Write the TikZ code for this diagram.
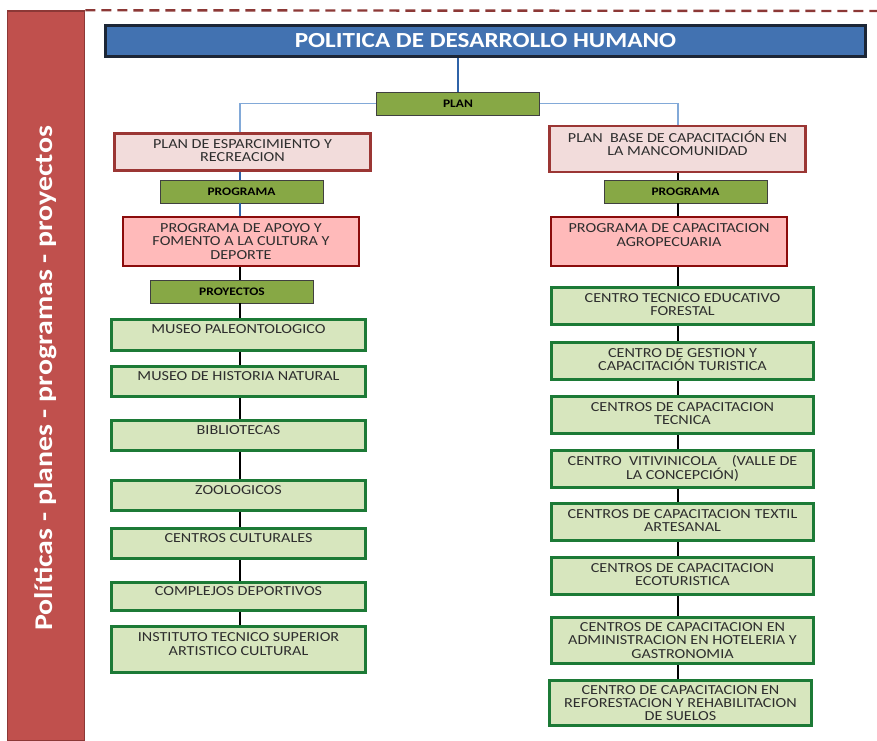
\documentclass[tikz,border=0pt]{standalone}
\usepackage{fontspec}
\setmainfont{Carlito}[FakeStretch=1.17]
\usepackage{tikz}
\usetikzlibrary{positioning}

\definecolor{BarRed}{HTML}{C0504D}
\definecolor{BarEdge}{HTML}{8C3836}
\definecolor{TitleBlue}{HTML}{4272B1}
\definecolor{TitleEdge}{HTML}{1C2636}
\definecolor{TagGreen}{HTML}{87A845}
\definecolor{PlanFill}{HTML}{F2DCDB}
\definecolor{PlanEdge}{HTML}{9B3634}
\definecolor{ProgFill}{HTML}{FFBABA}
\definecolor{ProgEdge}{HTML}{8B0C0C}
\definecolor{ProjFill}{HTML}{D7E6BE}
\definecolor{ProjEdge}{HTML}{1C7A36}
\definecolor{LinkBlue}{HTML}{2F63A8}
\definecolor{LightBlue}{HTML}{82A9D8}
\definecolor{TextGray}{HTML}{2E2E2E}

% invisible strut that lifts the text inside its box
\newcommand{\lift}[1]{\rule[-#1]{0pt}{0pt}}

\begin{document}
\begin{tikzpicture}[x=1pt, y=-1pt,
        boxtext/.style={text=TextGray, align=center, inner sep=0pt, font=\fontsize{13.8}{13.4}\selectfont},
        tagbox/.style={draw=black!75, fill=TagGreen, line width=0.7pt, minimum width=163pt, minimum height=23pt, inner sep=0pt, font=\bfseries\fontsize{11.5}{11.5}\selectfont},
        planbox/.style={boxtext, draw=PlanEdge, fill=PlanFill, line width=2.6pt},
        progbox/.style={boxtext, draw=ProgEdge, fill=ProgFill, line width=2.6pt, minimum width=236pt, minimum height=49pt},
        projbox/.style={boxtext, draw=ProjEdge, fill=ProjFill, line width=2.6pt},
        spine/.style={line width=2pt}
    ]
    \useasboundingbox (0,0) rectangle (877,740);

    % side bar
    \node[draw=BarEdge, fill=BarRed, line width=1.5pt, minimum width=77pt, minimum height=730pt, inner sep=0pt] (bar) at (46,376) {};
    \node[rotate=90, text=white, font=\bfseries\fontsize{25.5}{25.5}\selectfont] (side) at (46,378.5) {Políticas - planes - programas - proyectos};
    \draw[BarEdge, line width=2.4pt, dash pattern=on 10pt off 6pt] (bar.north east) -- (877,11);

    \node[draw=TitleEdge, fill=TitleBlue, line width=2.4pt, minimum width=760pt, minimum height=31pt, inner sep=0pt, text=white, font=\bfseries\fontsize{21.5}{21.5}\selectfont] (title) at (485.5,41) {POLITICA DE DESARROLLO HUMANO};
    \node[tagbox] (plan) at (458,103.5) {PLAN};

    % plans
    \node[planbox, minimum width=256pt, minimum height=37pt] (lplan) at (242.5,152) {PLAN DE ESPARCIMIENTO Y\\RECREACION\lift{3pt}};
    \node[planbox, minimum width=256pt, minimum height=46pt] (rplan) at (677.5,149) {PLAN\ \ BASE DE CAPACITACIÓN EN\\LA MANCOMUNIDAD\lift{11pt}};

    \node[tagbox] (lprograma) at (241.5,191.5) {PROGRAMA};
    \node[tagbox] (rprograma) at (685.5,191.5) {PROGRAMA};

    \node[progbox] (lprog) at (241,241.5) {PROGRAMA DE APOYO Y\\FOMENTO A LA CULTURA Y\\DEPORTE};
    \node[progbox] (rprog) at (669,241.5) {PROGRAMA DE CAPACITACION\\AGROPECUARIA\lift{13pt}};

    \node[tagbox] (proyectos) at (232,291.5) {PROYECTOS};

    % left projects
    \tikzset{lproj/.style={projbox, minimum width=254pt, minimum height=#1}}
    \node[lproj=31pt] (museo) at (238.5,335) {MUSEO PALEONTOLOGICO\lift{12pt}};
    \node[lproj=30pt] (historia) at (238.5,381.5) {MUSEO DE HISTORIA NATURAL\lift{10pt}};
    \node[lproj=30pt] (biblio) at (238.5,435.5) {BIBLIOTECAS\lift{10pt}};
    \node[lproj=30pt] (zoo) at (238.5,495.5) {ZOOLOGICOS\lift{10pt}};
    \node[lproj=30pt] (culturales) at (238.5,543.5) {CENTROS CULTURALES\lift{10pt}};
    \node[lproj=28pt] (complejos) at (238.5,596.5) {COMPLEJOS DEPORTIVOS\lift{10pt}};
    \node[lproj=46pt] (instituto) at (238.5,649.5) {INSTITUTO TECNICO SUPERIOR\\ARTISTICO CULTURAL\lift{11pt}};

    % right projects
    \tikzset{rproj/.style={projbox, minimum width=262pt, minimum height=#1}}
    \node[rproj=37pt] (forestal) at (682.5,306) {CENTRO TECNICO EDUCATIVO\\FORESTAL\lift{3pt}};
    \node[rproj=37pt] (turistica) at (682.5,361) {CENTRO DE GESTION Y\\CAPACITACIÓN TURISTICA\lift{3pt}};
    \node[rproj=37pt] (tecnica) at (682.5,415) {CENTROS DE CAPACITACION\\TECNICA\lift{3pt}};
    \node[rproj=37pt] (viti) at (682.5,469) {CENTRO\ \ VITIVINICOLA\ \ \ \ (VALLE DE\\LA CONCEPCIÓN)\lift{3pt}};
    \node[rproj=37pt] (textil) at (682.5,522) {CENTROS DE CAPACITACION TEXTIL\\ARTESANAL\lift{3pt}};
    \node[rproj=37pt] (eco) at (682.5,576) {CENTROS DE CAPACITACION\\ECOTURISTICA\lift{3pt}};
    \node[rproj=46pt] (hoteleria) at (682.5,640.5) {CENTROS DE CAPACITACION EN\\ADMINISTRACION EN HOTELERIA Y\\GASTRONOMIA};
    \node[rproj=45pt] (suelos) at (680.5,703) {CENTRO DE CAPACITACION EN\\REFORESTACION Y REHABILITACION\\DE SUELOS};

    % connectors
    \coordinate (lx) at (240,0);
    \coordinate (rx) at (678,0);
    \draw[LinkBlue, line width=2.6pt] (plan.north) -- (plan.north |- title.south);
    \draw[LightBlue, line width=1.2pt] (plan.west) -| (lx |- lplan.north);
    \draw[LightBlue, line width=1.2pt] (plan.east) -| (rx |- rplan.north);
    \draw[LinkBlue, line width=2.6pt] (lx |- lplan.south) -- (lx |- lprograma.north);
    \draw[LinkBlue, line width=2.6pt] (lx |- lprograma.south) -- (lx |- lprog.north);
    \foreach \a/\b in {lprog/proyectos, proyectos/museo, museo/historia, historia/biblio, biblio/zoo, zoo/culturales, culturales/complejos, complejos/instituto}
        \draw[spine] (lx |- \a.south) -- (lx |- \b.north);
    \foreach \a/\b in {rplan/rprograma, rprograma/rprog, rprog/forestal, forestal/turistica, turistica/tecnica, tecnica/viti, viti/textil, textil/eco, eco/hoteleria, hoteleria/suelos}
        \draw[spine] (rx |- \a.south) -- (rx |- \b.north);

\end{tikzpicture}
\end{document}
